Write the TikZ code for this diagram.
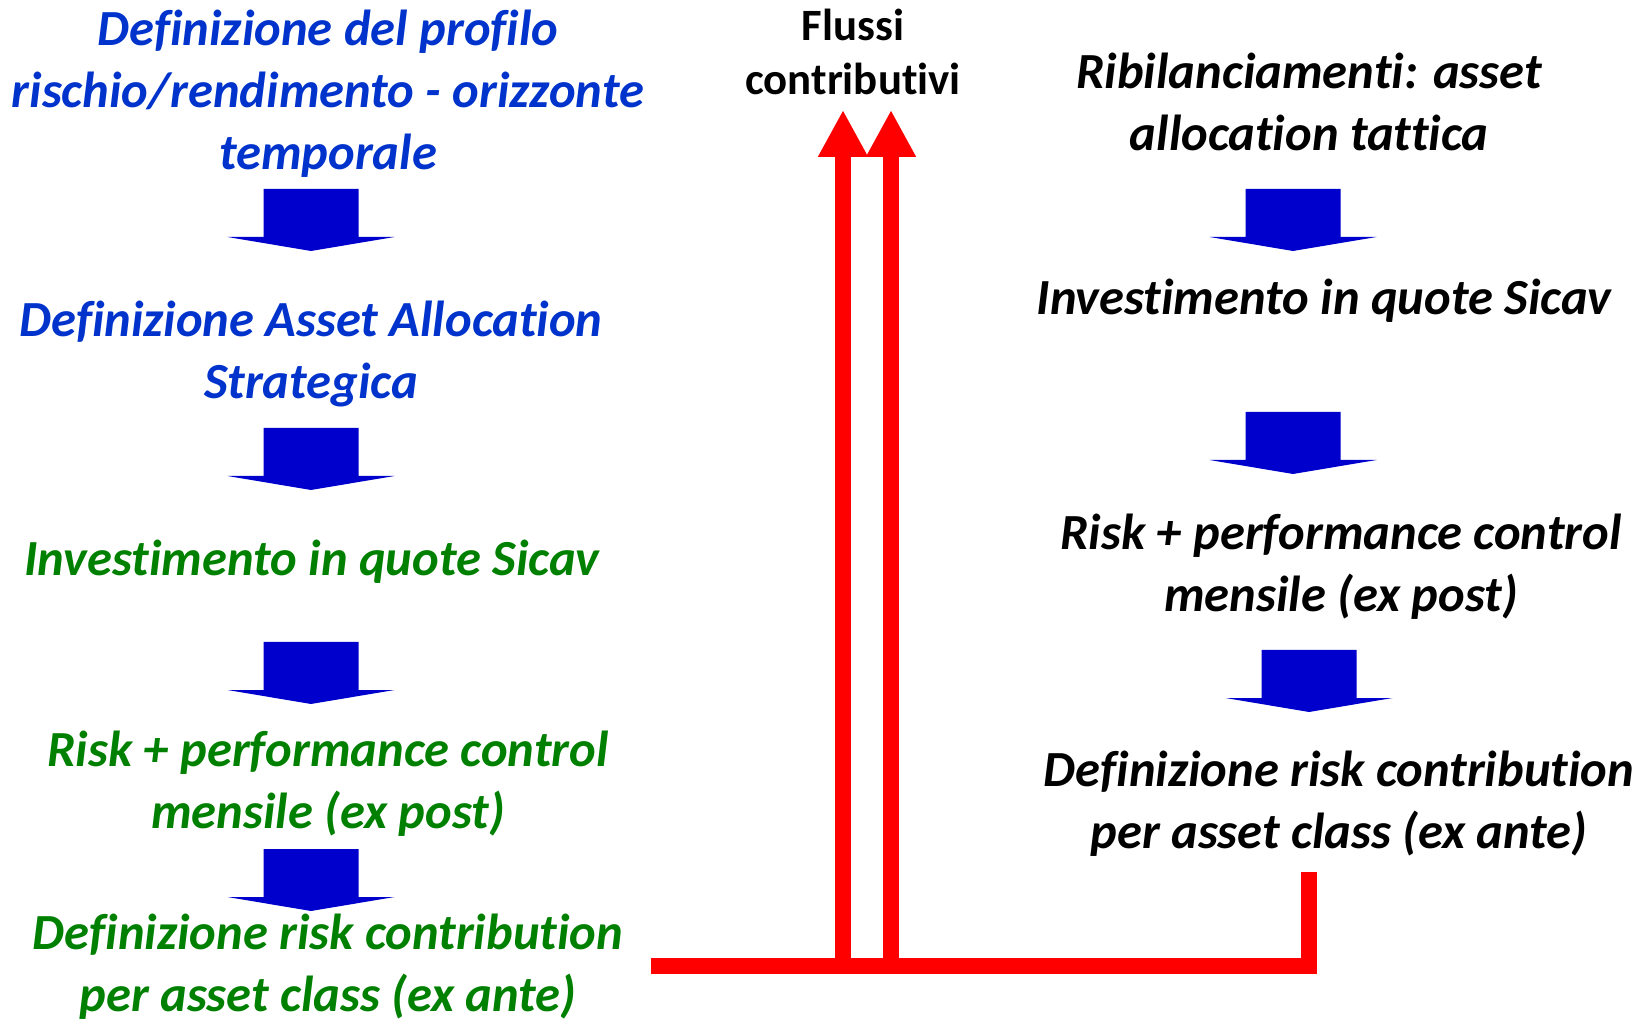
\documentclass[tikz,border=0pt]{standalone}
\usepackage{fontspec}
\setmainfont{Carlito}[Ligatures=NoCommon]
\usepackage{tikz}
\usetikzlibrary{arrows.meta}

\definecolor{txtblue}{RGB}{0,51,204}
\definecolor{txtgreen}{RGB}{0,128,0}
\definecolor{arrblue}{RGB}{0,0,204}

\tikzset{
  steptext/.style={font=\fontsize{25.3}{31}\selectfont\bfseries\itshape,
    align=center, inner sep=0pt},
  flowline/.style={draw=red, line width=8pt},
  flowarrow/.style={flowline, -{Triangle[width=23.5pt,length=23.5pt]}},
  downarrow/.pic={\fill[arrblue] (-47.5,0)--(47.5,0)--(47.5,48)--(83.5,48)--
    (0,62)--(-83.5,48)--(-47.5,48)--cycle;}
}

\begin{document}
\begin{tikzpicture}[x=0.5pt,y=-0.5pt]
          \useasboundingbox (0,0) rectangle (1648,1020);
          % left column
          \node[steptext,txtblue] (prof) at (328,94)
            {Definizione del profilo\\rischio/rendimento - orizzonte\\temporale};
          \node[steptext,txtblue] (saa) at (311,354)
            {Definizione Asset Allocation\\Strategica};
          \node[steptext,txtgreen] (inv) at (312,562)
            {Investimento in quote Sicav};
          \node[steptext,txtgreen] (ctrl) at (328,784)
            {Risk + performance control\\mensile (ex post)};
          \node[steptext,txtgreen] (contr) at (328,967)
            {Definizione risk contribution\\per asset class (ex ante)};
          \pic at (311,189) {downarrow};
          \pic at (311,428) {downarrow};
          \pic at (311,642) {downarrow};
          \pic at (311,849) {downarrow};
          % right column
          \node[steptext] (ribil) at (1309,102)
            {Ribilanciamenti: asset\\allocation tattica};
          \node[steptext] (rinv) at (1324,301)
            {Investimento in quote Sicav};
          \node[steptext] (rctrl) at (1341,567)
            {Risk + performance control\\mensile (ex post)};
          \node[steptext] (rcontr) at (1339,804)
            {Definizione risk contribution\\per asset class (ex ante)};
          \pic at (1293,189) {downarrow};
          \pic at (1293,412) {downarrow};
          \pic at (1309,650) {downarrow};
          % contributions
          \node[font=\fontsize{22.4}{27}\selectfont\bfseries,align=center,
            inner sep=0pt] (flussi) at (853,52) {Flussi\\contributivi};
          \coordinate (lstart) at (651,966);
          \coordinate (ltip) at (843,110);
          \coordinate (rstart) at (1309,872);
          \coordinate (rtip) at (891,110);
          \draw[flowline] (lstart) -- (rtip |- lstart);
          \draw[flowarrow] (ltip |- lstart) -- (ltip);
          \draw[flowarrow] (rstart) |- (rtip |- lstart) -- (rtip);
        \end{tikzpicture}
\end{document}
